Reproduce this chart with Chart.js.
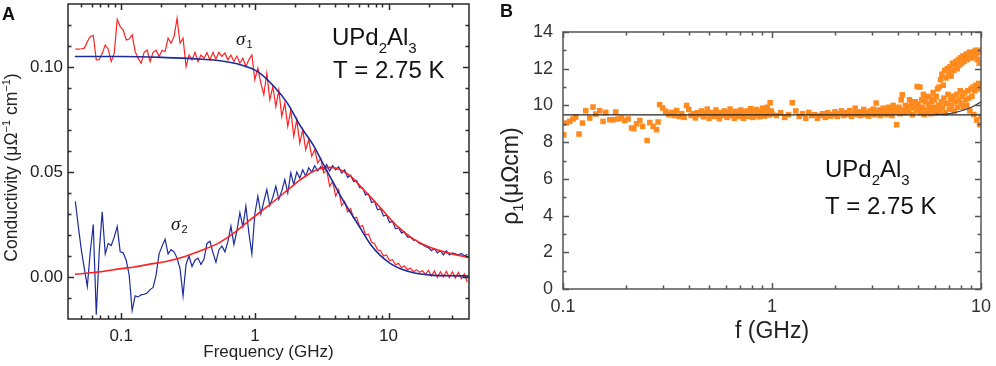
<!DOCTYPE html>
<html><head><meta charset="utf-8">
<script src="https://cdn.jsdelivr.net/npm/chart.js@4.4.1/dist/chart.umd.min.js"></script>
<style>
html,body{margin:0;padding:0;background:#fff;}
#wrap{position:relative;width:996px;height:366px;overflow:hidden;background:#fff;}
.pane{position:absolute;top:0;}
</style></head><body>
<div id="wrap">
<div class="pane" style="left:0;width:500px;height:366px"><canvas id="ca" width="500" height="366"></canvas></div>
<div class="pane" style="left:500px;width:496px;height:366px"><canvas id="cb" width="496" height="366"></canvas></div>
</div>
<script>
// ---------- Panel A data ----------
const freqA = [0.0454,0.0478,0.0503,0.0530,0.0558,0.0587,0.0618,0.0651,0.0685,0.0721,
0.0760,0.0800,0.0842,0.0887,0.0934,0.0983,0.1035,0.1090,0.1147,0.1208,
0.1272,0.1339,0.1410,0.1485,0.1563,0.1646,0.1733,0.1825,0.1921,0.2023,
0.2130,0.2243,0.2361,0.2486,0.2618,0.2756,0.2902,0.3056,0.3217,0.3388,
0.3567,0.3755,0.3954,0.4164,0.4384,0.4616,0.4860,0.5117,0.5386,0.5672,
0.5972,0.6288,0.6620,0.6970,0.7339,0.7727,0.8136,0.8566,0.9019,0.9497,
1.000,1.053,1.109,1.167,1.229,1.294,1.363,1.435,1.511,1.590,
1.675,1.763,1.857,1.954,2.058,2.167,2.281,2.402,2.529,2.663,
2.804,2.952,3.108,3.273,3.446,3.628,3.820,4.022,4.235,4.459,
4.695,4.943,5.205,5.480,5.770,6.075,6.397,6.735,7.091,7.466,
7.861,8.277,8.715,9.176,9.661,10.17,10.71,11.28,11.87,12.50,
13.16,13.86,14.59,15.37,16.18,17.03,17.94,18.88,19.88,20.94,
22.04,23.21,24.44,25.73,27.09,28.53,30.04,31.62,33.30,35.06,
36.92,38.87];
const sigma1Data = [0.1085,0.1085,0.1087,0.1090,0.1120,0.1145,0.1150,0.1034,0.1035,0.1065,
0.1105,0.1085,0.1026,0.1065,0.1227,0.1192,0.1176,0.1129,0.1133,0.1153,
0.1073,0.1042,0.1018,0.1070,0.1081,0.1026,0.1070,0.1080,0.1050,0.1080,
0.1073,0.1137,0.1113,0.1145,0.1232,0.1113,0.1137,0.1002,0.1057,0.1034,
0.1070,0.1026,0.1057,0.1042,0.1068,0.1034,0.1070,0.1037,0.1070,0.1050,
0.1067,0.1034,0.1057,0.1026,0.1052,0.1018,0.1042,0.1002,0.1034,0.1057,
0.0939,0.0994,0.0923,0.0868,0.0970,0.0844,0.0907,0.0812,0.0890,0.0765,
0.0828,0.0717,0.0796,0.0670,0.0749,0.0638,0.0701,0.0606,0.0654,0.0575,
0.0606,0.0543,0.0565,0.0496,0.0510,0.0432,0.0455,0.0385,0.0416,0.0340,
0.0360,0.0310,0.0325,0.0280,0.0285,0.0240,0.0245,0.0200,0.0205,0.0165,
0.0160,0.0130,0.0125,0.0100,0.0105,0.0078,0.0082,0.0058,0.0065,0.0045,
0.0052,0.0035,0.0042,0.0025,0.0035,0.0022,0.0030,0.0012,0.0032,0.0005,
0.0028,-0.0002,0.0025,0.0000,0.0027,-0.0003,0.0025,-0.0005,0.0022,-0.0008,
0.0015,-0.0025];
const sigma2Data = [0.0360,0.0240,0.0130,0.0040,-0.0045,0.0120,0.0250,-0.0180,0.0120,0.0310,
0.0110,0.0160,0.0150,0.0190,0.0240,0.0120,0.0115,0.0080,0.0010,-0.0160,
-0.0090,-0.0095,-0.0085,-0.0082,-0.0076,-0.0060,-0.0050,0.0010,0.0110,0.0147,
0.0180,0.0110,0.0130,0.0120,0.0090,0.0040,-0.0090,0.0060,0.0100,0.0050,
0.0080,0.0090,0.0060,0.0085,0.0160,0.0170,0.0115,0.0070,0.0130,0.0147,
0.0120,0.0170,0.0242,0.0155,0.0220,0.0306,0.0240,0.0337,0.0210,0.0110,
0.0300,0.0385,0.0300,0.0360,0.0416,0.0340,0.0380,0.0432,0.0370,0.0410,
0.0464,0.0400,0.0496,0.0440,0.0500,0.0470,0.0510,0.0480,0.0520,0.0500,
0.0530,0.0505,0.0525,0.0510,0.0535,0.0505,0.0530,0.0510,0.0525,0.0495,
0.0510,0.0475,0.0485,0.0455,0.0460,0.0425,0.0425,0.0390,0.0395,0.0355,
0.0360,0.0320,0.0325,0.0290,0.0295,0.0260,0.0265,0.0230,0.0235,0.0210,
0.0215,0.0190,0.0190,0.0175,0.0175,0.0160,0.0155,0.0145,0.0140,0.0125,
0.0135,0.0115,0.0125,0.0105,0.0125,0.0105,0.0115,0.0110,0.0105,0.0112,
0.0100,0.0108];
const fitFreq1 = [0.045,0.1,0.2,0.4,0.55,0.79,1.05,1.39,1.75,2.2,2.77,3.29,3.69,3.91,4.38,5.2,6.18,7.34,8.71,10.35,12.3,15.4,20.6,29,40];
const sigma1Fit = [0.1050,0.1050,0.1046,0.1037,0.1030,0.1010,0.0978,0.0907,0.0828,0.0717,0.0622,0.0531,0.0472,0.0443,0.0385,0.0307,0.0230,0.0155,0.0102,0.0064,0.0039,0.0020,0.0009,0.0006,0.0005];
const fitFreq2 = [0.045,0.07,0.1,0.125,0.16,0.22,0.3,0.4,0.53,0.7,0.93,1.25,1.65,2.2,2.9,3.7,4.4,5.2,6.5,8.7,11.6,15.5,20.6,27.4,40];
const sigma2Fit = [0.0013,0.0025,0.0040,0.0048,0.0060,0.0075,0.0098,0.0127,0.0160,0.0210,0.0274,0.0337,0.0400,0.0464,0.0511,0.0522,0.0510,0.0480,0.0416,0.0330,0.0242,0.0179,0.0140,0.0116,0.0092];
const xLabelsA = [0.1, 1, 10];
const yLabelsA = [0, 0.05, 0.10];
const xMinorA = [0.05,0.06,0.07,0.08,0.09,0.2,0.3,0.4,0.5,0.6,0.7,0.8,0.9,2,3,4,5,6,7,8,9,20,30];
const yMinorA = [-0.01,0.01,0.02,0.03,0.04,0.06,0.07,0.08,0.09,0.11,0.12];

// ---------- Panel B data ----------
const freqB = [0.1008,0.1038,0.1077,0.1117,0.1151,0.1193,0.1239,0.1285,0.1342,0.1392,
0.1435,0.1499,0.1555,0.1602,0.1675,0.1736,0.1788,0.1834,0.1905,0.1975,
0.2049,0.2127,0.2182,0.2248,0.2331,0.2402,0.2526,0.2602,0.2699,0.2802,0.2852,
0.29,0.30,0.31,0.32,0.33,0.34,0.35,0.36,0.37,0.38,0.39,0.40,0.41,0.42,0.43,0.44,0.45,0.46,0.47,0.48,
0.49,0.50,0.51,0.52,0.53,0.54,0.55,0.56,0.57,0.58,0.59,0.60,0.61,0.62,0.63,0.64,0.65,0.66,0.67,0.68,
0.69,0.70,0.71,0.72,0.73,0.74,0.75,0.76,0.77,0.78,0.79,0.80,0.81,0.82,0.83,0.84,0.85,0.86,0.87,0.88,
0.89,0.90,0.91,0.92,0.93,0.94,0.95,0.96,0.97,0.98,0.99,1.00,
1.05,1.10,1.15,1.20,1.25,1.30,1.35,1.40,1.45,1.50,1.55,1.60,1.65,1.70,1.75,1.80,1.85,1.90,1.95,2.00,
2.05,2.10,2.15,2.20,2.25,2.30,2.35,2.40,2.45,2.50,2.55,2.60,2.65,2.70,2.75,2.80,2.85,2.90,2.95,3.00,
3.05,3.10,3.15,3.20,3.25,3.30,3.35,3.40,3.45,3.50,3.55,3.60,3.65,3.70,3.75,3.80,3.85,3.90,3.95,4.00,
4.05,4.10,4.15,4.20,4.25,4.30,4.35,4.40,4.45,4.50,4.55,4.60,4.65,4.70,4.75,4.80,4.85,4.90,4.95,5.00,
5.05,5.10,5.15,5.20,5.25,5.30,5.35,5.40,5.45,5.50,5.55,5.60,5.65,5.70,5.75,5.80,5.85,5.90,5.95,6.00,
6.05,6.10,6.15,6.20,6.25,6.30,6.35,6.40,6.45,6.50,6.55,6.60,6.65,6.70,6.75,6.80,6.85,6.90,6.95,7.00,
7.05,7.10,7.15,7.20,7.25,7.30,7.35,7.40,7.45,7.50,7.55,7.60,7.65,7.70,7.75,7.80,7.85,7.90,7.95,8.00,
8.05,8.10,8.15,8.20,8.25,8.30,8.35,8.40,8.45,8.50,8.55,8.60,8.65,8.70,8.75,8.80,8.85,8.90,8.95,9.00,
9.05,9.10,9.15,9.20,9.25,9.30,9.35,9.40,9.45,9.50,9.55,9.60,9.65,9.70,9.75,9.80,9.85,9.90,9.95,10.00];
const rhoB = [8.40,9.04,9.13,9.26,9.37,8.44,9.04,9.71,9.31,9.91,
9.53,9.71,9.13,9.62,9.22,9.22,9.64,9.26,9.31,9.18,
9.26,8.77,8.73,9.00,9.18,8.86,8.09,9.07,8.86,8.68,9.10,
10.04,9.86,9.68,9.50,9.62,9.45,9.72,9.40,9.55,9.35,10.00,9.78,9.45,9.55,9.32,9.60,9.50,9.70,9.38,9.58,
9.80,9.30,9.62,9.50,9.40,9.75,9.55,9.28,9.60,9.45,9.70,9.50,9.35,9.62,9.80,9.45,9.55,9.30,9.68,9.50,
9.60,9.40,9.75,9.55,9.30,9.62,9.48,9.70,9.40,9.58,9.82,9.50,9.35,9.65,9.55,9.78,9.45,9.60,9.38,9.70,
9.52,9.85,9.60,9.42,9.70,9.55,9.90,9.62,9.48,10.15,9.70,9.55,
9.45,9.60,9.35,9.50,10.15,9.70,9.40,9.55,9.30,9.62,9.45,9.50,9.30,9.45,9.55,9.35,9.60,9.42,9.50,9.65,
9.40,9.55,9.70,9.45,9.60,9.50,9.72,9.40,9.58,9.85,9.50,9.65,9.45,9.60,9.78,9.50,9.62,9.42,9.70,9.55,
9.80,9.50,10.13,9.60,9.75,9.45,9.65,9.85,9.55,9.70,9.50,9.90,9.60,9.75,9.45,10.00,9.65,9.80,8.95,9.70,
9.90,9.55,10.30,10.58,9.75,9.60,10.00,9.80,9.95,9.65,10.31,9.85,10.10,9.50,10.20,9.90,10.20,9.70,11.03,10.05,
9.80,11.00,9.60,10.30,9.90,10.60,9.50,10.20,9.75,10.50,9.60,10.10,9.85,10.45,9.55,10.20,9.70,10.70,9.90,10.30,
9.60,10.50,9.80,10.90,10.00,11.00,9.70,11.40,10.20,11.70,9.90,11.10,10.40,11.90,9.60,11.50,10.10,12.00,10.60,11.80,
9.80,12.10,10.30,11.60,10.00,12.30,10.50,11.90,9.70,12.20,10.20,12.40,10.60,12.00,9.90,12.50,10.30,12.20,10.80,12.60,
10.10,12.30,10.50,12.70,9.90,12.40,10.70,12.60,10.30,12.80,10.00,12.50,10.80,12.70,10.40,12.90,9.70,12.60,10.90,12.80,
10.50,12.60,11.00,12.90,9.50,12.70,10.80,13.00,11.10,12.80,9.20,12.50,10.90,13.00,11.20,12.30,8.95,12.90,11.00,9.40];
const fitFreqB = [0.1, 10];
const fitRhoB = [9.48, 9.48];
const riseFreqB = [6, 7, 8, 9, 10];
const riseRhoB = [9.50, 9.55, 9.70, 9.90, 10.20];
const xLabelsB = [0.1, 1, 10];
const yLabelsB = [0, 2, 4, 6, 8, 10, 12, 14];
const xMinorB = [0.2,0.3,0.4,0.5,0.6,0.7,0.8,0.9,2,3,4,5,6,7,8,9];
const yMinorB = [1,3,5,7,9,11,13];

// ---------- helpers ----------
const SANS = '"Liberation Sans", Arial, Helvetica, sans-serif';
const RED = '#ff2222', BLUE = '#1c2c9c', ORANGE = '#ff8a1e';
function pts(xs, ys){ const n=Math.min(xs.length, ys.length); const o=[]; for(let i=0;i<n;i++) o.push({x:xs[i], y:ys[i]}); return o; }
function fixY(w){ return s => { s.width = w; s.paddingTop = 0; s.paddingBottom = 0; }; }
function fixX(h){ return s => { s.height = h; s.paddingLeft = 0; s.paddingRight = 0; }; }

function framePlugin(cfg){
  return { id:'frame'+cfg.key, afterDatasetsDraw(chart){
    const {ctx, chartArea:a, scales:{x, y}} = chart;
    ctx.save();
    ctx.strokeStyle = cfg.color; ctx.lineWidth = cfg.lw;
    ctx.beginPath();
    const vt = (v, len) => { const p = Math.round(x.getPixelForValue(v)) + 0.5;
      ctx.moveTo(p, a.bottom); ctx.lineTo(p, a.bottom - len);
      ctx.moveTo(p, a.top); ctx.lineTo(p, a.top + len); };
    const ht = (v, len) => { const p = Math.round(y.getPixelForValue(v)) + 0.5;
      ctx.moveTo(a.left, p); ctx.lineTo(a.left + len, p);
      ctx.moveTo(a.right, p); ctx.lineTo(a.right - len, p); };
    cfg.xMaj.forEach(v => vt(v, cfg.maj)); cfg.xMin.forEach(v => vt(v, cfg.min));
    cfg.yMaj.forEach(v => ht(v, cfg.maj)); cfg.yMin.forEach(v => ht(v, cfg.min));
    ctx.stroke();
    ctx.strokeRect(a.left, a.top, a.right - a.left, a.bottom - a.top);
    ctx.restore();
  }};
}
function drawParts(ctx, x, y, parts){
  let cx = x;
  parts.forEach(p => { ctx.font = (p.f || '') + ' ' + p.s + 'px ' + (p.fam || SANS); ctx.fillText(p.t, cx, y + (p.dy || 0)); cx += ctx.measureText(p.t).width; });
  return cx - x;
}
function partsWidth(ctx, parts){ let w=0; parts.forEach(p=>{ ctx.font=(p.f||'')+' '+p.s+'px '+(p.fam||SANS); w+=ctx.measureText(p.t).width; }); return w; }
function drawRotated(ctx, cx, cy, parts){
  ctx.save(); ctx.translate(cx, cy); ctx.rotate(-Math.PI/2);
  const w = partsWidth(ctx, parts); drawParts(ctx, -w/2, 0, parts); ctx.restore();
}
function formula(ctx, x, y, size){
  drawParts(ctx, x, y, [{t:'UPd', s:size}, {t:'2', s:Math.round(size*0.62), dy:8}, {t:'Al', s:size}, {t:'3', s:Math.round(size*0.62), dy:8}]);
}

const annotA = { id:'annotA', afterDraw(chart){
  const ctx = chart.ctx; ctx.save(); ctx.fillStyle = '#111'; ctx.textBaseline = 'alphabetic';
  drawParts(ctx, 2, 20, [{t:'A', s:18, f:'bold'}]);
  formula(ctx, 332, 45, 24);
  drawParts(ctx, 333, 78, [{t:'T = 2.75 K', s:24}]);
  drawParts(ctx, 236, 45, [{t:'σ', s:19, f:'italic', fam:'"Liberation Serif", "Times New Roman", serif'}]);
  drawParts(ctx, 246.5, 48, [{t:'1', s:11}]);
  drawParts(ctx, 171, 230, [{t:'σ', s:19, f:'italic', fam:'"Liberation Serif", "Times New Roman", serif'}]);
  drawParts(ctx, 181.5, 233, [{t:'2', s:11}]);
  ctx.fillStyle = '#222';
  drawRotated(ctx, 16.5, 167.5, [{t:'Conductivity (μΩ', s:17.5}, {t:'−1', s:11, dy:-7}, {t:' cm', s:17.5}, {t:'−1', s:11, dy:-7}, {t:')', s:17.5}]);
  ctx.restore();
}};
const annotB = { id:'annotB', afterDraw(chart){
  const ctx = chart.ctx; ctx.save(); ctx.fillStyle = '#111'; ctx.textBaseline = 'alphabetic';
  drawParts(ctx, 0, 17, [{t:'B', s:18, f:'bold'}]);
  formula(ctx, 325, 177, 24);
  drawParts(ctx, 325, 214, [{t:'T = 2.75 K', s:24}]);
  ctx.fillStyle = '#222';
  drawRotated(ctx, 18, 176, [{t:'ρ', s:23}, {t:'1', s:14, dy:5}, {t:'(μΩcm)', s:23}]);
  ctx.restore();
}};

// ---------- Chart A ----------
new Chart(document.getElementById('ca'), {
  type:'line',
  data:{ datasets:[
    {label:'σ1 fit', data:pts(fitFreq1, sigma1Fit), borderColor:BLUE, borderWidth:1.6, pointRadius:0, cubicInterpolationMode:'monotone', order:0},
    {label:'σ2 fit', data:pts(fitFreq2, sigma2Fit), borderColor:RED, borderWidth:1.6, pointRadius:0, cubicInterpolationMode:'monotone', order:0},
    {label:'σ1', data:pts(freqA, sigma1Data), borderColor:RED, borderWidth:1.2, pointRadius:0, tension:0, order:1},
    {label:'σ2', data:pts(freqA, sigma2Data), borderColor:BLUE, borderWidth:1.2, pointRadius:0, tension:0, order:1}
  ]},
  options:{
    responsive:false, animation:false, events:[],
    layout:{ padding:{left:0, right:31, top:4, bottom:0} },
    plugins:{ legend:{display:false}, tooltip:{enabled:false} },
    scales:{
      x:{ type:'logarithmic', min:0.04, max:40,
          grid:{display:false, drawTicks:false}, border:{display:false},
          afterBuildTicks:s => { s.ticks = xLabelsA.map(v => ({value:v})); },
          afterFit:fixX(47),
          ticks:{ autoSkip:false, maxRotation:0, padding:7, color:'#222', font:{family:SANS, size:17}, callback:v => String(v) },
          title:{ display:true, text:'Frequency (GHz)', color:'#222', font:{family:SANS, size:17}, padding:{top:0, bottom:3} } },
      y:{ type:'linear', min:-0.02, max:0.13,
          grid:{display:false, drawTicks:false}, border:{display:false},
          afterBuildTicks:s => { s.ticks = yLabelsA.map(v => ({value:v})); },
          afterFit:fixY(68),
          ticks:{ autoSkip:false, padding:5, color:'#222', font:{family:SANS, size:17}, callback:v => Number(v).toFixed(2) } }
    }
  },
  plugins:[ framePlugin({key:'A', color:'#2a2a2a', lw:1.5, maj:6, min:3.5, xMaj:xLabelsA, xMin:xMinorA, yMaj:yLabelsA, yMin:yMinorA}), annotA ]
});

// ---------- Chart B ----------
new Chart(document.getElementById('cb'), {
  type:'scatter',
  data:{ datasets:[
    {type:'line', label:'fit', data:pts(fitFreqB, fitRhoB), borderColor:'#222', borderWidth:1.3, pointRadius:0, order:0},
    {type:'line', label:'fit rise', data:pts(riseFreqB, riseRhoB), borderColor:'#333', borderWidth:1.1, pointRadius:0, cubicInterpolationMode:'monotone', order:0},
    {label:'ρ1', data:pts(freqB, rhoB), pointStyle:'rect', pointRadius:3.9, backgroundColor:ORANGE, borderWidth:0, order:1}
  ]},
  options:{
    responsive:false, animation:false, events:[],
    layout:{ padding:{left:0, right:15, top:32, bottom:0} },
    plugins:{ legend:{display:false}, tooltip:{enabled:false} },
    scales:{
      x:{ type:'logarithmic', min:0.1, max:10,
          grid:{display:false, drawTicks:false}, border:{display:false},
          afterBuildTicks:s => { s.ticks = xLabelsB.map(v => ({value:v})); },
          afterFit:fixX(77),
          ticks:{ autoSkip:false, maxRotation:0, padding:7, color:'#333', font:{family:SANS, size:18}, callback:v => String(v) },
          title:{ display:true, text:'f (GHz)', color:'#222', font:{family:SANS, size:23}, padding:{top:0, bottom:21} } },
      y:{ type:'linear', min:0, max:14,
          grid:{display:false, drawTicks:false}, border:{display:false},
          afterBuildTicks:s => { s.ticks = yLabelsB.map(v => ({value:v})); },
          afterFit:fixY(63),
          ticks:{ autoSkip:false, padding:10, color:'#333', font:{family:SANS, size:18}, callback:v => String(v) } }
    }
  },
  plugins:[ framePlugin({key:'B', color:'#555', lw:1.5, maj:6, min:3.5, xMaj:xLabelsB, xMin:xMinorB, yMaj:yLabelsB, yMin:yMinorB}), annotB ]
});
</script>
</body></html>
